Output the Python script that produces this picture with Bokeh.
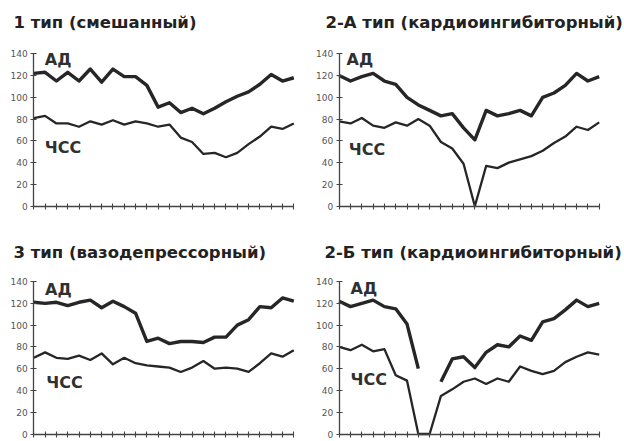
import numpy as np
from bokeh.plotting import figure
from bokeh.layouts import gridplot
from bokeh.models import (Range1d, FixedTicker, Label, ColumnDataSource,
                          CustomLabelingPolicy)
from bokeh.embed import file_html
from bokeh.resources import INLINE

# ---- data ----
steps = list(range(24))
y_ticks = [0, 20, 40, 60, 80, 100, 120, 140]

titles = ["1 тип  (смешанный)", "2-А тип (кардиоингибиторный)",
          "3 тип (вазодепрессорный)", "2-Б тип (кардиоингибиторный)"]
series_names = ["АД", "ЧСС"]

ad_1 = [122, 123, 115, 123, 115, 126, 114, 126, 119, 119, 111, 91, 95, 86, 90, 85, 90, 96, 101, 105, 112, 121, 115, 118]
hr_1 = [81, 83, 76, 76, 73, 78, 75, 79, 75, 78, 76, 73, 75, 63, 59, 48, 49, 45, 49, 57, 64, 73, 71, 76]

ad_2a = [120, 115, 119, 122, 115, 112, 100, 93, 88, 83, 85, 72, 61, 88, 83, 85, 88, 83, 100, 104, 111, 122, 115, 119]
hr_2a = [78, 76, 81, 74, 72, 77, 74, 80, 74, 59, 53, 39, 0, 37, 35, 40, 43, 46, 51, 58, 64, 73, 70, 77]

ad_3 = [121, 120, 121, 118, 121, 123, 116, 122, 117, 111, 85, 88, 83, 85, 85, 84, 89, 89, 100, 105, 117, 116, 125, 122]
hr_3 = [70, 75, 70, 69, 72, 68, 74, 64, 70, 65, 63, 62, 61, 57, 61, 67, 60, 61, 60, 57, 65, 74, 71, 77]

ad_2b = [122, 117, 120, 123, 117, 115, 101, 60, np.nan, 48, 69, 71, 61, 75, 82, 80, 90, 86, 103, 106, 114, 123, 117, 120]
hr_2b = [80, 77, 82, 76, 78, 54, 49, 0, 0, 35, 41, 48, 51, 46, 51, 48, 62, 58, 55, 58, 66, 71, 75, 73]

INK = "#262626"
FONT = "DejaVu Sans"

# layout of each 312x220 panel (pixels inside the panel)
PW, PH = 312, 220
SX = 260 / 23          # px per step
SY = 152.4 / 140       # px per unit

no_labels = CustomLabelingPolicy(code="""
    const all = [...indices];
    for (const i of all) indices.unset(i);
    return indices;
""")


def make_panel(title, ad, hr, left_px, zero_py, title_px, title_py, ad_xy, hr_xy):
    x0 = -left_px / SX
    x1 = 23 + (PW - left_px - 260) / SX
    y0 = -(PH - zero_py) / SY
    y1 = zero_py / SY
    p = figure(width=PW, height=PH,
               x_range=Range1d(x0, x1), y_range=Range1d(y0, y1),
               output_backend="svg", toolbar_location=None, title=None,
               min_border=0, min_border_left=0, min_border_right=0,
               min_border_top=0, min_border_bottom=0)
    p.outline_line_color = None
    p.grid.visible = False
    p.background_fill_color = "white"
    p.border_fill_color = "white"

    src = ColumnDataSource(dict(x=steps, ad=ad, hr=hr))
    p.line("x", "ad", source=src, line_color=INK, line_width=3.4, line_join="round")
    p.line("x", "hr", source=src, line_color=INK, line_width=2.3, line_join="round")

    for ax in (p.xaxis[0], p.yaxis[0]):
        ax.fixed_location = 0
        ax.axis_line_color = "#444444"
        ax.axis_line_width = 1.3
        ax.major_tick_line_color = "#444444"
        ax.major_tick_line_width = 1.1
        ax.major_tick_in = 3
        ax.major_tick_out = 3
        ax.minor_tick_line_color = None

    p.xaxis.bounds = (0, 23)
    p.xaxis.ticker = FixedTicker(ticks=steps)
    p.xaxis.major_label_policy = no_labels
    p.xaxis.major_label_text_font_size = "6px"
    p.xaxis.major_label_standoff = 0
    p.yaxis.bounds = (0, 140)
    p.yaxis.ticker = FixedTicker(ticks=y_ticks)
    p.yaxis.major_label_text_font_size = "9px"
    p.yaxis.major_label_text_font = FONT
    p.yaxis.major_label_text_color = "#555555"
    p.yaxis.major_label_standoff = 3

    p.add_layout(Label(x=x0 + title_px / SX, y=y1 - title_py / SY, text=title,
                       text_font=FONT, text_font_style="bold", text_font_size="16.5px",
                       text_color="#222222", text_baseline="middle"))
    p.add_layout(Label(x=ad_xy[0], y=ad_xy[1], text=series_names[0], text_font=FONT,
                       text_font_style="bold", text_font_size="16px",
                       text_color="#303030", text_baseline="middle"))
    p.add_layout(Label(x=hr_xy[0], y=hr_xy[1], text=series_names[1], text_font=FONT,
                       text_font_style="bold", text_font_size="16px",
                       text_color="#303030", text_baseline="middle"))
    return p


p1 = make_panel(titles[0], ad_1, hr_1, 33.3, 205.7, 13, 22, (0.97, 134.5), (0.97, 53.5))
p2 = make_panel(titles[1], ad_2a, hr_2a, 26.7, 205.7, 13, 22, (0.65, 135), (0.85, 52))
p3 = make_panel(titles[2], ad_3, hr_3, 33.3, 213.5, 13, 32, (1.0, 133), (1.1, 47.5))
p4 = make_panel(titles[3], ad_2b, hr_2b, 26.7, 213.5, 12, 32, (1.0, 134), (1.0, 50))

grid = gridplot([[p1, p2], [p3, p4]], toolbar_location=None)

open("out.html", "w").write(file_html(grid, INLINE))
